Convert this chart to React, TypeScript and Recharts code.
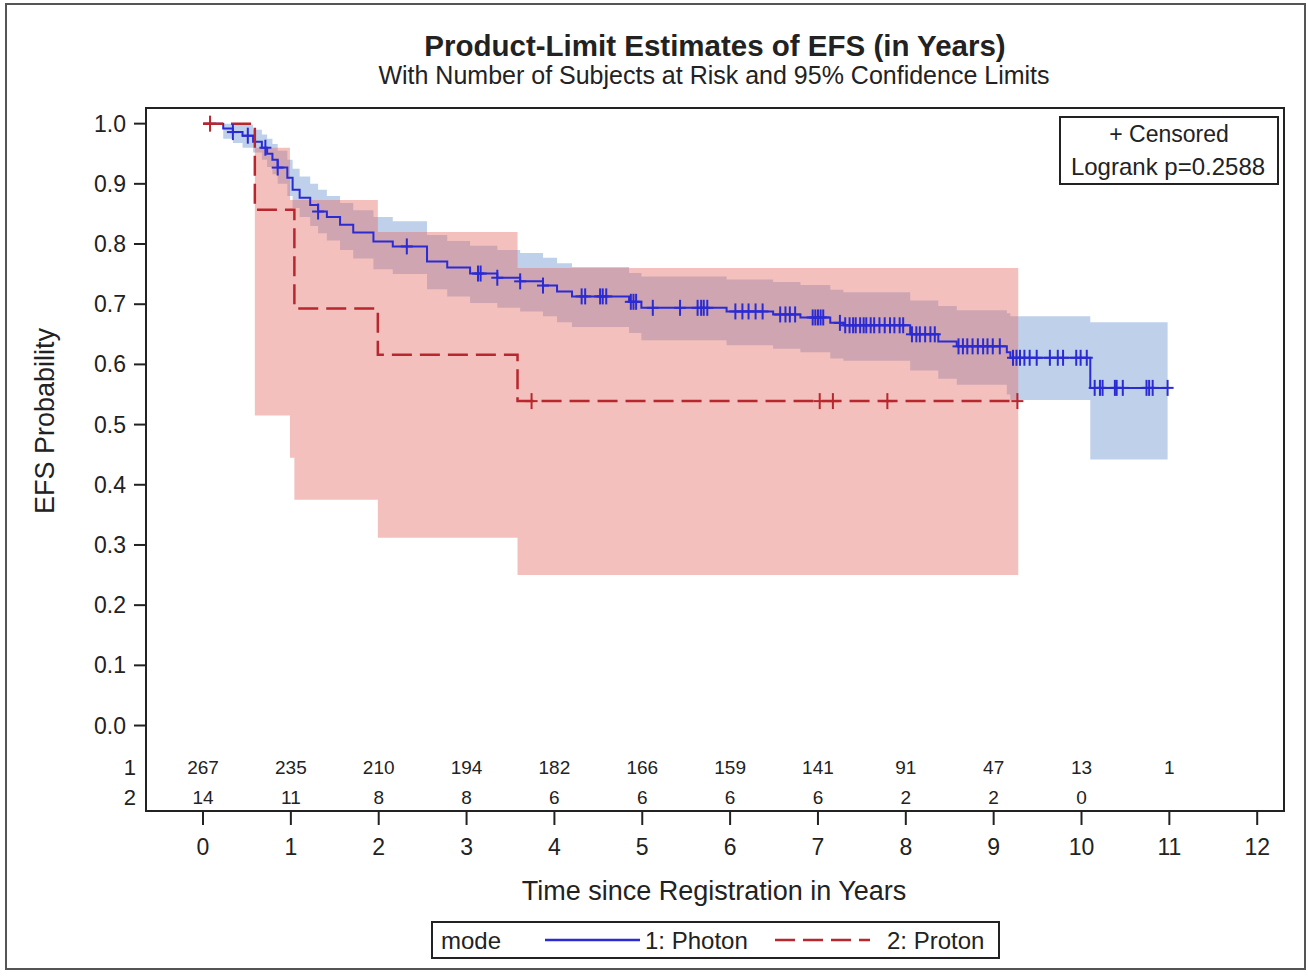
import React from 'react';
import { ComposedChart, Line, Area, Scatter, XAxis, YAxis, ReferenceArea } from 'recharts';

// group 1: Photon – product-limit estimate and 95% confidence limits
const photonTime = [0, 0.23, 0.34, 0.45, 0.57, 0.67, 0.73, 0.79, 0.85, 0.96, 1.02, 1.1, 1.22, 1.31, 1.41, 1.56, 1.71, 1.94, 2.16, 2.55, 2.78, 3.04, 3.35, 3.61, 3.87, 4.03, 4.2, 4.85, 4.99, 5.96, 6.49, 6.8, 7.14, 7.29, 8.05, 8.37, 8.58, 9.15, 9.19, 10.1, 10.98];
const photonEst = [1, 0.992, 0.986, 0.98, 0.97, 0.96, 0.95, 0.94, 0.927, 0.91, 0.89, 0.877, 0.865, 0.854, 0.845, 0.832, 0.819, 0.804, 0.796, 0.771, 0.761, 0.751, 0.744, 0.738, 0.731, 0.721, 0.713, 0.704, 0.694, 0.688, 0.683, 0.678, 0.669, 0.665, 0.65, 0.638, 0.63, 0.62, 0.611, 0.561, 0.561];
const photonLower = [1, 0.975, 0.968, 0.96, 0.952, 0.94, 0.928, 0.916, 0.9, 0.88, 0.86, 0.845, 0.83, 0.818, 0.806, 0.79, 0.776, 0.758, 0.75, 0.725, 0.713, 0.702, 0.694, 0.688, 0.68, 0.67, 0.662, 0.652, 0.64, 0.632, 0.626, 0.62, 0.61, 0.606, 0.59, 0.576, 0.566, 0.55, 0.541, 0.442, 0.442];
const photonUpper = [1, 1, 1, 0.998, 0.99, 0.982, 0.975, 0.966, 0.955, 0.94, 0.925, 0.912, 0.9, 0.89, 0.88, 0.868, 0.856, 0.845, 0.838, 0.815, 0.805, 0.797, 0.79, 0.785, 0.777, 0.768, 0.762, 0.752, 0.746, 0.741, 0.737, 0.732, 0.724, 0.72, 0.706, 0.697, 0.69, 0.685, 0.68, 0.67, 0.67];
const photonCensored = [0.34, 0.51, 0.71, 0.85, 1.31, 2.32, 3.13, 3.16, 3.35, 3.61, 3.87, 4.31, 4.35, 4.52, 4.55, 4.59, 4.87, 4.9, 4.93, 5.12, 5.43, 5.63, 5.67, 5.7, 5.74, 6.06, 6.14, 6.21, 6.29, 6.37, 6.57, 6.63, 6.68, 6.74, 6.94, 6.97, 7.0, 7.03, 7.06, 7.25, 7.31, 7.36, 7.4, 7.43, 7.48, 7.52, 7.55, 7.6, 7.64, 7.7, 7.76, 7.82, 7.87, 7.93, 7.97, 8.07, 8.12, 8.16, 8.22, 8.28, 8.33, 8.6, 8.65, 8.7, 8.76, 8.82, 8.88, 8.93, 8.99, 9.07, 9.22, 9.26, 9.3, 9.35, 9.41, 9.49, 9.64, 9.73, 9.79, 9.94, 9.99, 10.06, 10.15, 10.21, 10.24, 10.38, 10.4, 10.47, 10.74, 10.77, 10.81, 10.98];

// group 2: Proton
const protonTime = [0, 0.59, 0.99, 1.04, 1.99, 3.58, 9.28];
const protonEst = [1, 0.857, 0.857, 0.693, 0.616, 0.539, 0.539];
const protonLower = [1, 0.515, 0.445, 0.375, 0.312, 0.25, 0.25];
const protonUpper = [1, 0.96, 0.873, 0.873, 0.82, 0.76, 0.76];
const protonCensored = [0.08, 3.74, 7.02, 7.17, 7.79, 9.27];

// number of subjects at risk
const riskTimes = [0, 1, 2, 3, 4, 5, 6, 7, 8, 9, 10, 11];
const photonAtRisk = [267, 235, 210, 194, 182, 166, 159, 141, 91, 47, 13, 1];
const protonAtRisk = [14, 11, 8, 8, 6, 6, 6, 6, 2, 2, 0];
const groupLabels = ['1', '2'];

const xTicks = [0, 1, 2, 3, 4, 5, 6, 7, 8, 9, 10, 11, 12];
const yTicks = [0, 0.1, 0.2, 0.3, 0.4, 0.5, 0.6, 0.7, 0.8, 0.9, 1.0];

// layout
const FONT = '"Liberation Sans", Arial, Helvetica, sans-serif';
const BLUE = '#2b2bd4';
const RED = '#b8262e';
const INK = '#222';
const ROW1 = -0.07;
const ROW2 = -0.12;
const X_DOMAIN: [number, number] = [-0.649, 12.305];
const Y_DOMAIN: [number, number] = [-0.142, 1.026];
const Y_TICK_SIZE = 12;
const Y_TICK_MARGIN = 8;

const stepAt = (times: number[], vals: number[], t: number) => {
  let v = vals[0];
  times.forEach((s, i) => {
    if (s <= t) v = vals[i];
  });
  return v;
};

const rows = new Map<number, any>();
const put = (t: number, patch: any) => rows.set(t, { ...(rows.get(t) || { t }), ...patch });
photonTime.forEach((t, i) => put(t, { photon: photonEst[i], photonBand: [photonLower[i], photonUpper[i]] }));
protonTime.forEach((t, i) => put(t, { proton: protonEst[i], protonBand: [protonLower[i], protonUpper[i]] }));
const tableData = [...rows.values()].sort((a, b) => a.t - b.t);

const photonMarks = photonCensored.map((t) => ({ t, y: stepAt(photonTime, photonEst, t) }));
const protonMarks = protonCensored.map((t) => ({ t, y: stepAt(protonTime, protonEst, t) }));
const photonRisk = photonAtRisk.map((n, i) => ({ t: riskTimes[i], y: ROW1, n }));
const protonRisk = protonAtRisk.map((n, i) => ({ t: riskTimes[i], y: ROW2, n }));

const plus = (color: string) => (p: any) => (
  <g stroke={color} strokeWidth={2}>
    <line x1={p.cx - 6} x2={p.cx + 6} y1={p.cy} y2={p.cy} />
    <line x1={p.cx} x2={p.cx} y1={p.cy - 8} y2={p.cy + 8} />
  </g>
);

const riskText = (p: any) => (
  <text x={p.cx} y={p.cy} textAnchor="middle" dominantBaseline="central" fontSize={19} fill={INK} fontFamily={FONT}>
    {p.payload.n}
  </text>
);

const YTick = (props: any) => {
  const { x, y, payload } = props;
  const v = payload.value;
  if (v === ROW1 || v === ROW2) {
    return (
      <text x={x + 10} y={y} textAnchor="end" dominantBaseline="central" fontSize={22} fill={INK} fontFamily={FONT}>
        {groupLabels[v === ROW1 ? 0 : 1]}
      </text>
    );
  }
  return (
    <g>
      <line x1={x + Y_TICK_MARGIN} x2={x + Y_TICK_MARGIN + Y_TICK_SIZE} y1={y} y2={y} stroke={INK} strokeWidth={2} />
      <text x={x} y={y} textAnchor="end" dominantBaseline="central" fontSize={23} fill={INK} fontFamily={FONT}>
        {v.toFixed(1)}
      </text>
    </g>
  );
};

const Overlay = () => (
  <svg width={1308} height={977} style={{ position: 'absolute', left: 0, top: 0, pointerEvents: 'none' }} fontFamily={FONT}>
    <rect x={6} y={4} width={1299} height={965} fill="none" stroke="#555" strokeWidth={2} />
    <text x={715} y={56} textAnchor="middle" fontSize={29.5} fontWeight="bold" fill={INK}>
      Product-Limit Estimates of EFS (in Years)
    </text>
    <text x={714} y={84} textAnchor="middle" fontSize={25} fill={INK}>
      With Number of Subjects at Risk and 95% Confidence Limits
    </text>
    <text transform="translate(54,421) rotate(-90)" textAnchor="middle" fontSize={27} fill={INK}>
      EFS Probability
    </text>
    <text x={714} y={900} textAnchor="middle" fontSize={27} fill={INK}>
      Time since Registration in Years
    </text>

    {/* censored / logrank box */}
    <rect x={1060} y={117} width={218} height={67} fill="#fff" stroke={INK} strokeWidth={2} />
    <text x={1169} y={142} textAnchor="middle" fontSize={23} fill={INK}>
      + Censored
    </text>
    <text x={1168} y={175} textAnchor="middle" fontSize={24} fill={INK}>
      Logrank p=0.2588
    </text>

    {/* legend */}
    <rect x={432} y={922} width={567} height={36} fill="#fff" stroke={INK} strokeWidth={2} />
    <text x={441} y={949} fontSize={24} fill={INK}>mode</text>
    <line x1={545} x2={640} y1={940} y2={940} stroke={BLUE} strokeWidth={2.5} />
    <text x={645} y={949} fontSize={24} fill={INK}>1: Photon</text>
    <line x1={775} x2={870} y1={940} y2={940} stroke={RED} strokeWidth={2.5} strokeDasharray="20 8" />
    <text x={887} y={949} fontSize={24} fill={INK}>2: Proton</text>
  </svg>
);

export default function App() {
  return (
    <div style={{ position: 'absolute', left: 0, top: 0, width: 1308, height: 977, background: '#fff' }}>
      <ComposedChart
        width={1308}
        height={977}
        data={tableData}
        margin={{ top: 108, right: 24, left: 86, bottom: 106 }}
        style={{ fontFamily: FONT }}
      >
        <XAxis
          dataKey="t"
          type="number"
          domain={X_DOMAIN}
          allowDataOverflow
          ticks={xTicks}
          interval={0}
          height={60}
          tickSize={14}
          tickMargin={14}
          tick={{ fontSize: 23, fill: INK, fontFamily: FONT }}
          tickLine={{ stroke: INK, strokeWidth: 2 }}
          axisLine={{ stroke: INK, strokeWidth: 2 }}
        />
        <YAxis
          type="number"
          domain={Y_DOMAIN}
          allowDataOverflow
          ticks={[ROW2, ROW1, ...yTicks]}
          interval={0}
          width={60}
          tickSize={Y_TICK_SIZE}
          tickMargin={Y_TICK_MARGIN}
          tickLine={false}
          tick={<YTick />}
          axisLine={{ stroke: INK, strokeWidth: 2 }}
        />
        <ReferenceArea
          x1={X_DOMAIN[0]}
          x2={X_DOMAIN[1]}
          y1={Y_DOMAIN[0]}
          y2={Y_DOMAIN[1]}
          fill="none"
          stroke={INK}
          strokeWidth={2}
          fillOpacity={0}
        />
        <Area
          dataKey="photonBand"
          type="stepAfter"
          connectNulls
          stroke="none"
          fill="#7096d0"
          fillOpacity={0.45}
          isAnimationActive={false}
          activeDot={false}
        />
        <Area
          dataKey="protonBand"
          type="stepAfter"
          connectNulls
          stroke="none"
          fill="#e36a62"
          fillOpacity={0.42}
          isAnimationActive={false}
          activeDot={false}
        />
        <Line
          dataKey="photon"
          type="stepAfter"
          connectNulls
          stroke={BLUE}
          strokeWidth={2}
          dot={false}
          activeDot={false}
          isAnimationActive={false}
        />
        <Line
          dataKey="proton"
          type="stepAfter"
          connectNulls
          stroke={RED}
          strokeWidth={2.5}
          strokeDasharray="20 8"
          dot={false}
          activeDot={false}
          isAnimationActive={false}
        />
        <Scatter data={photonMarks} dataKey="y" shape={plus(BLUE)} isAnimationActive={false} />
        <Scatter data={protonMarks} dataKey="y" shape={plus(RED)} isAnimationActive={false} />
        <Scatter data={photonRisk} dataKey="y" shape={riskText} isAnimationActive={false} />
        <Scatter data={protonRisk} dataKey="y" shape={riskText} isAnimationActive={false} />
      </ComposedChart>
      <Overlay />
    </div>
  );
}
